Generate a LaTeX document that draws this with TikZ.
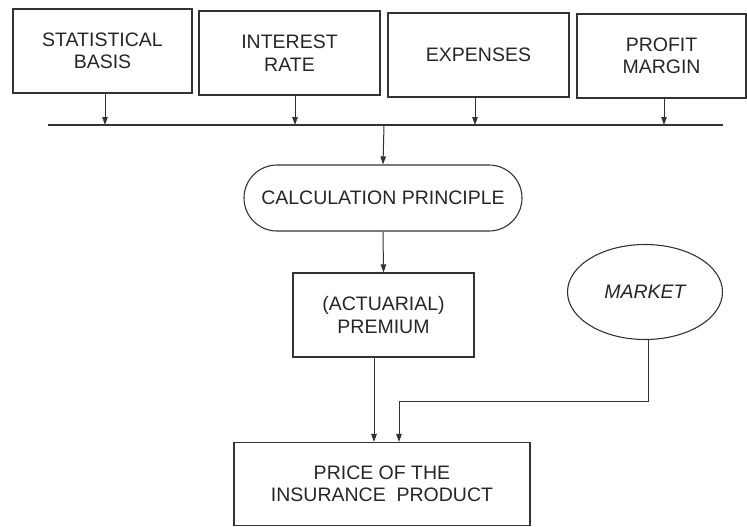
\documentclass[tikz,border=0pt]{standalone}
\usepackage{fontspec}
\setmainfont{Liberation Sans}
\usetikzlibrary{arrows.meta,shapes.geometric,shapes.misc}

\tikzset{
	blk/.style={draw=black!80, line width=1.1pt, text=black!85, align=center, font=\fontsize{19.5}{22.5}\selectfont, inner sep=0pt},
	arr/.style={draw=black!80, line width=1pt, -{Triangle[length=8pt,width=5.5pt]}},
	ln/.style={draw=black!80, line width=1.1pt}
}

\begin{document}
\begin{tikzpicture}[x=1pt,y=-1pt]
				\useasboundingbox (0,0) rectangle (747,527);
				
				% top row of inputs
				\node[blk, minimum width=179, minimum height=84] (stat) at (102.5,51) {STATISTICAL\\BASIS};
				\node[blk, minimum width=181, minimum height=84] (rate) at (289.5,53) {INTEREST\\RATE};
				\node[blk, minimum width=181, minimum height=84] (exp) at (478.5,55) {EXPENSES};
				\node[blk, minimum width=169, minimum height=84] (profit) at (661.5,56) {PROFIT\\MARGIN};
				
				% collecting line
				\coordinate (busL) at (48,125);
				\coordinate (busR) at (723,125);
				\coordinate (busM) at (384,125);
				\draw[ln] (busL) -- (busR);
				\draw[arr] ([xshift=2.5pt]stat.south) -- ([xshift=2.5pt]stat.south |- busL);
				\draw[arr] ([xshift=5.5pt]rate.south) -- ([xshift=5.5pt]rate.south |- busL);
				\draw[arr] ([xshift=-3.5pt]exp.south) -- ([xshift=-3.5pt]exp.south |- busL);
				\draw[arr] ([xshift=2.5pt]profit.south) -- ([xshift=2.5pt]profit.south |- busL);
				
				\node[blk, rounded rectangle, minimum width=278, minimum height=66] (calc) at (383,198) {CALCULATION PRINCIPLE};
				\draw[arr] (busM) -- (calc.north);
				
				\node[blk, minimum width=181, minimum height=84] (prem) at (383.5,315) {(ACTUARIAL)\\PREMIUM};
				\draw[arr] (calc.south) -- (prem.north);
				
				\node[blk, ellipse, minimum width=155, minimum height=95, font=\fontsize{19.5}{22.5}\selectfont\itshape] (market) at (645,292) {MARKET};
				
				\node[blk, minimum width=296, minimum height=83] (price) at (382,484) {PRICE OF THE\\INSURANCE~ PRODUCT};
				
				\draw[arr] ([xshift=-9.5pt]prem.south) -- ([xshift=-9.5pt]prem.south |- price.north);
				\coordinate (mjoin) at (399,401);
				\draw[arr] ([xshift=3pt]market.south) |- (mjoin) -- (mjoin |- price.north);
			\end{tikzpicture}
\end{document}
